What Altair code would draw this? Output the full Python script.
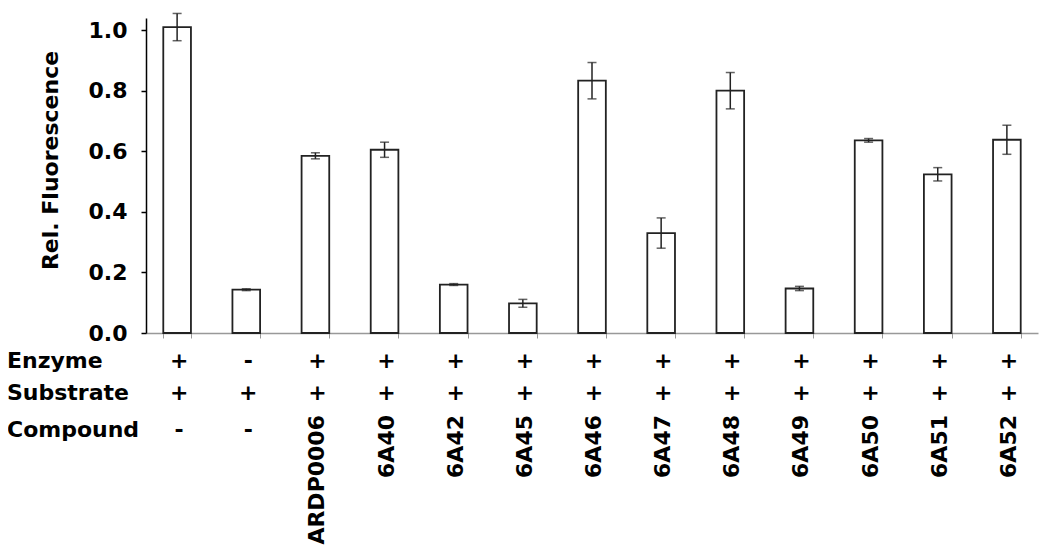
import altair as alt
import pandas as pd

samples = ["Ctrl E+S", "Ctrl S", "ARDP0006", "6A40", "6A42", "6A45", "6A46",
           "6A47", "6A48", "6A49", "6A50", "6A51", "6A52"]
means = [1.010, 0.143, 0.585, 0.605, 0.160, 0.098, 0.833, 0.330, 0.800, 0.147, 0.636, 0.524, 0.638]
errs = [0.045, 0.003, 0.010, 0.025, 0.003, 0.013, 0.060, 0.050, 0.060, 0.007, 0.006, 0.022, 0.048]
enzyme = ["+", "-", "+", "+", "+", "+", "+", "+", "+", "+", "+", "+", "+"]
substrate = ["+", "+", "+", "+", "+", "+", "+", "+", "+", "+", "+", "+", "+"]
compound = ["-", "-", "ARDP0006", "6A40", "6A42", "6A45", "6A46", "6A47", "6A48",
            "6A49", "6A50", "6A51", "6A52"]
row_names = ["Enzyme", "Substrate", "Compound"]

df = pd.DataFrame({"sample": samples, "mean": means, "err": errs,
                   "enzyme": enzyme, "substrate": substrate, "compound": compound})
df["lo"] = df["mean"] - df["err"]
df["hi"] = df["mean"] + df["err"]

FONT = "DejaVu Sans"

X = alt.X("sample:N", sort=samples,
          scale=alt.Scale(paddingInner=0.6, paddingOuter=0.25),
          axis=alt.Axis(title=None, labels=False, tickBand="extent",
                        domainColor="#999999", tickColor="#999999",
                        tickSize=5, domainWidth=1.5))

Y = alt.Y("mean:Q", scale=alt.Scale(domain=[0, 1.04], nice=False),
          axis=alt.Axis(title="Rel. Fluorescence", values=[0, 0.2, 0.4, 0.6, 0.8, 1.0],
                        format=".1f", grid=False, domainColor="black", domainWidth=1.5,
                        tickColor="black", tickSize=5, tickWidth=1.5,
                        labelFont=FONT, labelFontWeight="bold", labelFontSize=22,
                        labelColor="black", labelPadding=14,
                        titleFont=FONT, titleFontWeight="bold", titleFontSize=22,
                        titleColor="black", titleX=-96, titleY=142,
                        titleAlign="center", titleBaseline="middle", titleAngle=270))

base = alt.Chart(df)

bars = base.mark_bar(fill="white", stroke="#222222", strokeWidth=1.8).encode(x=X, y=Y)

err_rule = base.mark_rule(color="#222222", strokeWidth=1.5).encode(
    x=X, y=alt.Y("lo:Q"), y2="hi:Q")
cap_hi = base.mark_tick(color="#222222", thickness=1.5, size=9).encode(x=X, y=alt.Y("hi:Q"))
cap_lo = base.mark_tick(color="#222222", thickness=1.5, size=9).encode(x=X, y=alt.Y("lo:Q"))

txt = dict(font=FONT, fontWeight="bold", fontSize=22, color="black")

enz = base.mark_text(dx=2, **txt).encode(x=X, y=alt.value(343), text="enzyme:N")
sub = base.mark_text(dx=2, **txt).encode(x=X, y=alt.value(375), text="substrate:N")
comp_dash = base.transform_filter(alt.datum.compound == "-").mark_text(dx=2, **txt).encode(
    x=X, y=alt.value(412), text="compound:N")
comp_names = base.transform_filter(alt.datum.compound != "-").mark_text(
    angle=270, align="right", baseline="middle", dx=0, dy=2, **txt).encode(
    x=X, y=alt.value(397), text="compound:N")

row_df = pd.DataFrame({"label": row_names, "idx": [0, 1, 2]})
row_layers = []
for i, ypos in enumerate([343, 375, 412]):
    row_layers.append(
        alt.Chart(row_df).transform_filter(alt.datum.idx == i).mark_text(
            align="left", baseline="middle", **txt).encode(
            x=alt.value(-139), y=alt.value(ypos), text="label:N"))

chart = alt.layer(bars, err_rule, cap_hi, cap_lo, enz, sub, comp_dash, comp_names,
                  *row_layers).properties(
    width=892, height=315,
    autosize=alt.AutoSizeParams(type="none"),
    padding={"left": 138, "top": 10, "right": 4, "bottom": 214},
    background="white",
).configure_view(stroke=None)

chart.save("out.html", embed_options={"renderer": "svg", "actions": False})
